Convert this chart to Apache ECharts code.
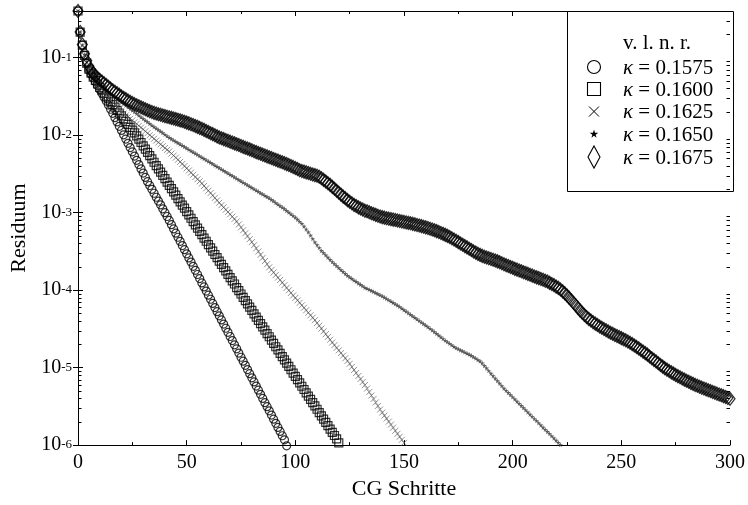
<!DOCTYPE html>
<html><head><meta charset="utf-8">
<script src="https://cdn.jsdelivr.net/npm/echarts@6/dist/echarts.min.js"></script>
<style>html,body{margin:0;padding:0;background:#fff;overflow:hidden}#c{width:748px;height:505px}</style>
</head><body><div id="c"></div>
<script>
// ---- data (residual per CG step, index = step number) ----
const seriesNames = ['κ = 0.1575', 'κ = 0.1600', 'κ = 0.1625', 'κ = 0.1650', 'κ = 0.1675'];
const legendTitle = 'v. l. n. r.';
const xTickValues = [0, 50, 100, 150, 200, 250, 300];
const yMinorTicks = [
  2e-6,3e-6,4e-6,5e-6,6e-6,7e-6,8e-6,9e-6,
  2e-5,3e-5,4e-5,5e-5,6e-5,7e-5,8e-5,9e-5,
  2e-4,3e-4,4e-4,5e-4,6e-4,7e-4,8e-4,9e-4,
  2e-3,3e-3,4e-3,5e-3,6e-3,7e-3,8e-3,9e-3,
  2e-2,3e-2,4e-2,5e-2,6e-2,7e-2,8e-2,9e-2,
  2e-1,3e-1
];

const res1575 = [
0.40,0.214,0.145,0.107,8.51e-2,6.92e-2,6.17e-2,5.50e-2,4.90e-2,4.37e-2,
3.89e-2,3.47e-2,3.09e-2,2.75e-2,2.45e-2,2.16e-2,1.91e-2,1.68e-2,1.48e-2,1.30e-2,
1.15e-2,1.01e-2,8.91e-3,7.85e-3,6.92e-3,6.10e-3,5.37e-3,4.73e-3,4.17e-3,3.67e-3,
3.24e-3,2.85e-3,2.51e-3,2.24e-3,2.00e-3,1.78e-3,1.58e-3,1.41e-3,1.26e-3,1.12e-3,
1.00e-3,8.91e-4,7.94e-4,7.00e-4,6.17e-4,5.43e-4,4.81e-4,4.26e-4,3.76e-4,3.33e-4,
2.94e-4,2.60e-4,2.30e-4,2.03e-4,1.80e-4,1.59e-4,1.41e-4,1.24e-4,1.10e-4,9.73e-5,
8.61e-5,7.62e-5,6.73e-5,5.96e-5,5.27e-5,4.66e-5,4.12e-5,3.65e-5,3.22e-5,2.85e-5,
2.52e-5,2.23e-5,1.97e-5,1.75e-5,1.54e-5,1.36e-5,1.21e-5,1.07e-5,9.44e-6,8.36e-6,
7.38e-6,6.53e-6,5.78e-6,5.11e-6,4.52e-6,4.00e-6,3.53e-6,3.13e-6,2.77e-6,2.44e-6,
2.16e-6,1.91e-6,1.69e-6,1.50e-6,1.32e-6,1.17e-6,0.98e-6
];

const res1600 = [
0.40,0.214,0.145,0.107,8.51e-2,7.08e-2,6.31e-2,5.62e-2,5.07e-2,4.57e-2,
4.12e-2,3.80e-2,3.47e-2,3.20e-2,2.95e-2,2.69e-2,2.48e-2,2.29e-2,2.09e-2,1.93e-2,
1.78e-2,1.62e-2,1.50e-2,1.38e-2,1.26e-2,1.16e-2,1.07e-2,9.77e-3,8.86e-3,8.04e-3,
7.29e-3,6.61e-3,5.99e-3,5.43e-3,4.93e-3,4.47e-3,4.05e-3,3.67e-3,3.33e-3,3.02e-3,
2.74e-3,2.48e-3,2.25e-3,2.04e-3,1.85e-3,1.68e-3,1.52e-3,1.38e-3,1.25e-3,1.14e-3,
1.03e-3,9.33e-4,8.46e-4,7.67e-4,6.96e-4,6.31e-4,5.72e-4,5.19e-4,4.70e-4,4.27e-4,
3.87e-4,3.51e-4,3.18e-4,2.88e-4,2.62e-4,2.37e-4,2.15e-4,1.95e-4,1.77e-4,1.60e-4,
1.45e-4,1.32e-4,1.20e-4,1.08e-4,9.83e-5,8.91e-5,8.08e-5,7.33e-5,6.65e-5,6.03e-5,
5.47e-5,4.95e-5,4.49e-5,4.07e-5,3.69e-5,3.35e-5,3.04e-5,2.75e-5,2.50e-5,2.26e-5,
2.05e-5,1.86e-5,1.69e-5,1.53e-5,1.39e-5,1.26e-5,1.14e-5,1.04e-5,9.39e-6,8.51e-6,
7.72e-6,7.00e-6,6.35e-6,5.75e-6,5.22e-6,4.73e-6,4.29e-6,3.89e-6,3.53e-6,3.20e-6,
2.90e-6,2.63e-6,2.39e-6,2.16e-6,1.96e-6,1.78e-6,1.61e-6,1.46e-6,1.33e-6,1.20e-6,
1.07e-6
];

const res1625 = [
0.40,0.214,0.145,0.107,8.71e-2,7.41e-2,6.46e-2,5.75e-2,5.13e-2,4.68e-2,
4.27e-2,3.89e-2,3.59e-2,3.31e-2,3.05e-2,2.82e-2,2.63e-2,2.45e-2,2.29e-2,2.14e-2,
2.00e-2,1.90e-2,1.80e-2,1.71e-2,1.63e-2,1.55e-2,1.47e-2,1.40e-2,1.32e-2,1.25e-2,
1.19e-2,1.12e-2,1.06e-2,1.00e-2,9.51e-3,8.99e-3,8.51e-3,8.05e-3,7.62e-3,7.21e-3,
6.82e-3,6.46e-3,6.17e-3,5.79e-3,5.45e-3,5.12e-3,4.81e-3,4.52e-3,4.25e-3,3.99e-3,
3.73e-3,3.50e-3,3.28e-3,3.08e-3,2.88e-3,2.70e-3,2.54e-3,2.38e-3,2.21e-3,2.06e-3,
1.92e-3,1.79e-3,1.66e-3,1.55e-3,1.44e-3,1.34e-3,1.25e-3,1.17e-3,1.09e-3,1.02e-3,
9.51e-4,8.87e-4,8.28e-4,7.69e-4,7.05e-4,6.46e-4,5.92e-4,5.42e-4,4.97e-4,4.55e-4,
4.17e-4,3.80e-4,3.46e-4,3.15e-4,2.86e-4,2.61e-4,2.37e-4,2.16e-4,1.97e-4,1.82e-4,
1.69e-4,1.57e-4,1.45e-4,1.35e-4,1.25e-4,1.16e-4,1.07e-4,9.93e-5,9.20e-5,8.53e-5,
7.94e-5,7.38e-5,6.86e-5,6.37e-5,5.92e-5,5.50e-5,5.11e-5,4.74e-5,4.41e-5,4.09e-5,
3.77e-5,3.47e-5,3.19e-5,2.94e-5,2.70e-5,2.49e-5,2.29e-5,2.11e-5,1.95e-5,1.80e-5,
1.67e-5,1.54e-5,1.43e-5,1.32e-5,1.22e-5,1.12e-5,1.02e-5,9.33e-6,8.53e-6,7.80e-6,
7.13e-6,6.52e-6,5.96e-6,5.37e-6,4.84e-6,4.37e-6,3.94e-6,3.55e-6,3.20e-6,2.88e-6,
2.63e-6,2.40e-6,2.20e-6,2.01e-6,1.84e-6,1.68e-6,1.53e-6,1.40e-6,1.28e-6,1.17e-6,
1.07e-6
];

const res1650 = [
0.40,0.214,0.145,0.110,8.91e-2,7.59e-2,6.61e-2,5.89e-2,5.37e-2,4.95e-2,
4.57e-2,4.31e-2,4.06e-2,3.82e-2,3.60e-2,3.39e-2,3.23e-2,3.08e-2,2.93e-2,2.79e-2,
2.66e-2,2.54e-2,2.42e-2,2.30e-2,2.19e-2,2.09e-2,2.00e-2,1.90e-2,1.80e-2,1.71e-2,
1.63e-2,1.55e-2,1.48e-2,1.41e-2,1.34e-2,1.28e-2,1.22e-2,1.17e-2,1.12e-2,1.07e-2,
1.02e-2,9.73e-3,9.29e-3,8.93e-3,8.59e-3,8.26e-3,7.94e-3,7.64e-3,7.35e-3,7.06e-3,
6.79e-3,6.53e-3,6.28e-3,6.04e-3,5.81e-3,5.58e-3,5.37e-3,5.16e-3,4.97e-3,4.78e-3,
4.59e-3,4.42e-3,4.25e-3,4.08e-3,3.93e-3,3.78e-3,3.63e-3,3.49e-3,3.36e-3,3.23e-3,
3.10e-3,2.99e-3,2.87e-3,2.76e-3,2.65e-3,2.55e-3,2.45e-3,2.36e-3,2.27e-3,2.18e-3,
2.10e-3,2.02e-3,1.94e-3,1.87e-3,1.79e-3,1.73e-3,1.66e-3,1.60e-3,1.54e-3,1.47e-3,
1.41e-3,1.34e-3,1.28e-3,1.22e-3,1.17e-3,1.12e-3,1.06e-3,1.01e-3,9.59e-4,9.12e-4,
8.67e-4,8.17e-4,7.69e-4,7.24e-4,6.65e-4,6.11e-4,5.61e-4,5.08e-4,4.60e-4,4.17e-4,
3.83e-4,3.52e-4,3.23e-4,3.03e-4,2.83e-4,2.65e-4,2.48e-4,2.32e-4,2.18e-4,2.06e-4,
1.94e-4,1.83e-4,1.73e-4,1.63e-4,1.54e-4,1.47e-4,1.41e-4,1.34e-4,1.29e-4,1.23e-4,
1.18e-4,1.13e-4,1.08e-4,1.05e-4,1.02e-4,9.84e-5,9.53e-5,9.23e-5,8.93e-5,8.65e-5,
8.38e-5,8.05e-5,7.74e-5,7.45e-5,7.16e-5,6.89e-5,6.62e-5,6.37e-5,6.10e-5,5.82e-5,
5.56e-5,5.31e-5,5.07e-5,4.84e-5,4.62e-5,4.42e-5,4.22e-5,4.03e-5,3.85e-5,3.67e-5,
3.51e-5,3.35e-5,3.20e-5,3.04e-5,2.89e-5,2.75e-5,2.61e-5,2.48e-5,2.36e-5,2.24e-5,
2.14e-5,2.05e-5,1.96e-5,1.87e-5,1.79e-5,1.74e-5,1.68e-5,1.63e-5,1.58e-5,1.53e-5,
1.48e-5,1.43e-5,1.37e-5,1.32e-5,1.26e-5,1.21e-5,1.14e-5,1.06e-5,9.84e-6,9.12e-6,
8.41e-6,7.82e-6,7.26e-6,6.75e-6,6.27e-6,5.82e-6,5.41e-6,5.07e-6,4.75e-6,4.46e-6,
4.18e-6,3.92e-6,3.67e-6,3.44e-6,3.23e-6,3.03e-6,2.84e-6,2.66e-6,2.49e-6,2.34e-6,
2.19e-6,2.06e-6,1.93e-6,1.81e-6,1.69e-6,1.59e-6,1.49e-6,1.40e-6,1.31e-6,1.23e-6,
1.15e-6,1.08e-6,1.01e-6
];

const res1675 = [
0.40,0.214,0.148,0.112,9.12e-2,7.76e-2,6.92e-2,6.31e-2,5.82e-2,5.50e-2,
5.19e-2,4.92e-2,4.68e-2,4.44e-2,4.22e-2,4.00e-2,3.80e-2,3.63e-2,3.47e-2,3.31e-2,
3.16e-2,3.03e-2,2.92e-2,2.80e-2,2.69e-2,2.60e-2,2.51e-2,2.43e-2,2.36e-2,2.29e-2,
2.22e-2,2.16e-2,2.10e-2,2.04e-2,1.99e-2,1.94e-2,1.90e-2,1.86e-2,1.83e-2,1.79e-2,
1.76e-2,1.73e-2,1.70e-2,1.67e-2,1.64e-2,1.61e-2,1.58e-2,1.55e-2,1.52e-2,1.49e-2,
1.45e-2,1.42e-2,1.38e-2,1.35e-2,1.31e-2,1.28e-2,1.24e-2,1.21e-2,1.17e-2,1.13e-2,
1.10e-2,1.06e-2,1.03e-2,9.95e-3,9.64e-3,9.35e-3,9.12e-3,8.89e-3,8.67e-3,8.45e-3,
8.24e-3,8.04e-3,7.83e-3,7.64e-3,7.45e-3,7.24e-3,7.06e-3,6.89e-3,6.71e-3,6.55e-3,
6.37e-3,6.19e-3,6.04e-3,5.89e-3,5.74e-3,5.60e-3,5.46e-3,5.32e-3,5.19e-3,5.06e-3,
4.93e-3,4.81e-3,4.69e-3,4.57e-3,4.46e-3,4.35e-3,4.23e-3,4.11e-3,4.00e-3,3.89e-3,
3.77e-3,3.65e-3,3.53e-3,3.45e-3,3.38e-3,3.31e-3,3.24e-3,3.18e-3,3.11e-3,3.05e-3,
2.99e-3,2.90e-3,2.78e-3,2.65e-3,2.52e-3,2.40e-3,2.28e-3,2.15e-3,2.03e-3,1.92e-3,
1.81e-3,1.71e-3,1.61e-3,1.53e-3,1.45e-3,1.38e-3,1.32e-3,1.26e-3,1.22e-3,1.17e-3,
1.13e-3,1.10e-3,1.06e-3,1.04e-3,1.01e-3,9.84e-4,9.59e-4,9.35e-4,9.12e-4,8.91e-4,
8.75e-4,8.61e-4,8.47e-4,8.36e-4,8.24e-4,8.13e-4,8.02e-4,7.91e-4,7.80e-4,7.69e-4,
7.59e-4,7.48e-4,7.38e-4,7.28e-4,7.16e-4,7.05e-4,6.93e-4,6.82e-4,6.70e-4,6.58e-4,
6.46e-4,6.32e-4,6.19e-4,6.05e-4,5.92e-4,5.77e-4,5.62e-4,5.47e-4,5.32e-4,5.16e-4,
5.01e-4,4.84e-4,4.67e-4,4.50e-4,4.33e-4,4.16e-4,4.00e-4,3.85e-4,3.70e-4,3.56e-4,
3.42e-4,3.29e-4,3.16e-4,3.05e-4,2.94e-4,2.85e-4,2.77e-4,2.70e-4,2.64e-4,2.58e-4,
2.52e-4,2.47e-4,2.41e-4,2.35e-4,2.29e-4,2.22e-4,2.16e-4,2.10e-4,2.05e-4,1.99e-4,
1.94e-4,1.88e-4,1.84e-4,1.79e-4,1.75e-4,1.70e-4,1.66e-4,1.62e-4,1.58e-4,1.54e-4,
1.50e-4,1.46e-4,1.43e-4,1.39e-4,1.36e-4,1.32e-4,1.29e-4,1.24e-4,1.20e-4,1.16e-4,
1.11e-4,1.07e-4,1.02e-4,9.64e-5,9.08e-5,8.51e-5,7.94e-5,7.40e-5,6.87e-5,6.37e-5,
5.90e-5,5.48e-5,5.11e-5,4.78e-5,4.50e-5,4.26e-5,4.05e-5,3.86e-5,3.70e-5,3.55e-5,
3.40e-5,3.27e-5,3.15e-5,3.03e-5,2.92e-5,2.82e-5,2.73e-5,2.64e-5,2.56e-5,2.48e-5,
2.40e-5,2.32e-5,2.25e-5,2.17e-5,2.09e-5,2.01e-5,1.93e-5,1.85e-5,1.77e-5,1.69e-5,
1.61e-5,1.54e-5,1.47e-5,1.39e-5,1.32e-5,1.26e-5,1.20e-5,1.14e-5,1.08e-5,1.03e-5,
9.84e-6,9.42e-6,9.04e-6,8.69e-6,8.36e-6,8.05e-6,7.76e-6,7.50e-6,7.24e-6,7.00e-6,
6.78e-6,6.56e-6,6.35e-6,6.17e-6,5.98e-6,5.82e-6,5.66e-6,5.51e-6,5.37e-6,5.24e-6,
5.11e-6,4.98e-6,4.85e-6,4.73e-6,4.61e-6,4.50e-6,4.39e-6,4.28e-6,4.17e-6,4.06e-6,
3.96e-6
];

// ---- chart ----
const FONT = '"Liberation Serif", "Times New Roman", Times, serif';
const X_MIN = xTickValues[0], X_MAX = xTickValues[xTickValues.length - 1];
const Y_MIN = 1e-6, Y_MAX = 0.4;

const STAR_PTS = [[50,0],[61,35],[98,35],[68,57],[79,91],[50,70],[21,91],[32,57],[2,35],[39,35]];
const STAR_PATH = 'M' + STAR_PTS.map(p => p.join(',')).join('L') + 'Z';
const SYM = {
  circle: 'circle',
  square: 'rect',
  cross: 'path://M0,0L10,10M10,0L0,10',
  star: 'path://' + STAR_PATH,
  diamond: 'path://M6,0L12,11L6,22L0,11Z'
};
const emptyStyle = {color: 'rgba(0,0,0,0)', borderColor: '#000', borderWidth: 1.2};

const toPairs = arr => arr.map((v, i) => [i, v]);

const seriesDefs = [
  {data: res1575, symbol: SYM.circle, size: 8, style: emptyStyle},
  {data: res1600, symbol: SYM.square, size: 8, style: emptyStyle},
  {data: res1625, symbol: SYM.cross, size: 6, style: {color: 'rgba(0,0,0,0)', borderColor: '#555', borderWidth: 0.8}},
  {data: res1650, symbol: SYM.star, size: 5, style: {color: '#333', borderWidth: 0}},
  {data: res1675, symbol: SYM.diamond, size: [10, 13], style: {color: 'rgba(0,0,0,0)', borderColor: '#000', borderWidth: 1.3}}
];

const series = seriesDefs.map((d, i) => ({
  type: 'scatter',
  name: seriesNames[i],
  data: toPairs(d.data),
  symbol: d.symbol,
  symbolSize: d.size,
  itemStyle: d.style,
  clip: false,
  silent: true,
  z: 2
}));

function yLabel(v) {
  const lg = Math.log10(v);
  const e = Math.round(lg);
  if (Math.abs(lg - e) > 1e-6) return '';
  return '{b|10}{s|' + e + '}';
}

// legend (drawn as graphic elements inside a framed box)
const LX = 594, TX = 623;
const legendY = [67, 89, 111.5, 134, 157];
const legendStroke = {fill: 'none', stroke: '#000', lineWidth: 1.1};
const starScale = 9 / 100;
const legendIcons = [
  {type: 'circle', shape: {cx: LX, cy: legendY[0], r: 6.5}, style: legendStroke},
  {type: 'rect', shape: {x: LX - 6.5, y: legendY[1] - 6.5, width: 13, height: 13}, style: legendStroke},
  {type: 'line', shape: {x1: LX - 5, y1: legendY[2] - 5, x2: LX + 5, y2: legendY[2] + 5}, style: {stroke: '#000', lineWidth: 1}},
  {type: 'line', shape: {x1: LX + 5, y1: legendY[2] - 5, x2: LX - 5, y2: legendY[2] + 5}, style: {stroke: '#000', lineWidth: 1}},
  {type: 'polygon', shape: {points: STAR_PTS.map(p => [LX + (p[0] - 50) * starScale, legendY[3] + (p[1] - 50) * starScale])}, style: {fill: '#000'}},
  {type: 'polygon', shape: {points: [[LX, legendY[4] - 11], [LX + 6, legendY[4]], [LX, legendY[4] + 11], [LX - 6, legendY[4]]]}, style: legendStroke}
];
const legendGraphics = [
  {type: 'rect', z: 10, shape: {x: 567.5, y: 11.5, width: 166, height: 180},
   style: {fill: '#fff', stroke: '#000', lineWidth: 1}},
  {type: 'text', z: 11, x: TX, y: 43,
   style: {text: legendTitle, fontFamily: FONT, fontSize: 21, fill: '#000', align: 'left', verticalAlign: 'middle'}}
];
legendIcons.forEach(ic => legendGraphics.push(Object.assign({z: 11}, ic)));
seriesNames.forEach((n, i) => legendGraphics.push({
  type: 'text', z: 11, x: TX, y: legendY[i] + 1,
  style: {text: n.replace('κ', '{k|κ}'), fontFamily: FONT, fontSize: 21, fill: '#000',
          align: 'left', verticalAlign: 'middle',
          rich: {k: {fontFamily: FONT, fontSize: 21, fontStyle: 'italic', fill: '#000'}}}
}));

const axisLineStyle = {show: true, lineStyle: {color: '#000', width: 1}};
const tickStyle = {show: true, inside: true, length: 5, lineStyle: {color: '#000', width: 1}};
const minorX = {show: true, splitNumber: 2, length: 3, lineStyle: {color: '#000', width: 1}};

const option = {
  animation: false,
  backgroundColor: '#fff',
  grid: {left: 78, right: 14, top: 11, bottom: 58, containLabel: false},
  xAxis: [
    {type: 'value', position: 'bottom', min: X_MIN, max: X_MAX, interval: 50,
     axisLine: axisLineStyle, axisTick: tickStyle, minorTick: minorX,
     splitLine: {show: false}, minorSplitLine: {show: false},
     axisLabel: {fontFamily: FONT, fontSize: 20, color: '#000', margin: 8},
     name: 'CG Schritte', nameLocation: 'middle', nameGap: 29,
     nameTextStyle: {fontFamily: FONT, fontSize: 22, color: '#000'}},
    {type: 'value', position: 'top', min: X_MIN, max: X_MAX, interval: 50,
     axisLine: axisLineStyle, axisTick: tickStyle, minorTick: minorX,
     splitLine: {show: false}, axisLabel: {show: false}}
  ],
  yAxis: [
    {type: 'log', logBase: 10, position: 'left', min: Y_MIN, max: Y_MAX,
     axisLine: axisLineStyle, axisTick: tickStyle, splitLine: {show: false},
     axisLabel: {formatter: yLabel, margin: 6, color: '#000', fontFamily: FONT,
       rich: {
         b: {fontFamily: FONT, fontSize: 20, lineHeight: 20, verticalAlign: 'bottom', color: '#000'},
         s: {fontFamily: FONT, fontSize: 13, lineHeight: 13, verticalAlign: 'top', padding: [3, 0, 11, 0], color: '#000'}
       }},
     name: 'Residuum', nameLocation: 'middle', nameGap: 36,
     nameTextStyle: {fontFamily: FONT, fontSize: 22, color: '#000'}},
    {type: 'log', logBase: 10, position: 'right', min: Y_MIN, max: Y_MAX,
     axisLine: axisLineStyle, axisTick: tickStyle, splitLine: {show: false},
     axisLabel: {show: false}}
  ],
  graphic: legendGraphics,
  series: series
};

const chart = echarts.init(document.getElementById('c'), null, {renderer: 'canvas'});
chart.setOption(option);

// minor log ticks (2..9 x 10^k) on the left and right frame, placed through the axis scales
const minorTickGraphics = [];
yMinorTicks.forEach(v => {
  const pl = chart.convertToPixel({gridIndex: 0}, [X_MIN, v]);
  const pr = chart.convertToPixel({gridIndex: 0}, [X_MAX, v]);
  if (!pl || !pr) return;
  const y = Math.round(pl[1]) + 0.5;
  const xl = Math.round(pl[0]);
  const xr = Math.round(pr[0]);
  minorTickGraphics.push({type: 'line', z: 20, shape: {x1: xl, y1: y, x2: xl + 3.5, y2: y}, style: {stroke: '#000', lineWidth: 1}});
  minorTickGraphics.push({type: 'line', z: 20, shape: {x1: xr - 3.5, y1: y, x2: xr, y2: y}, style: {stroke: '#000', lineWidth: 1}});
});
chart.setOption({graphic: legendGraphics.concat(minorTickGraphics)});
</script>
</body></html>
